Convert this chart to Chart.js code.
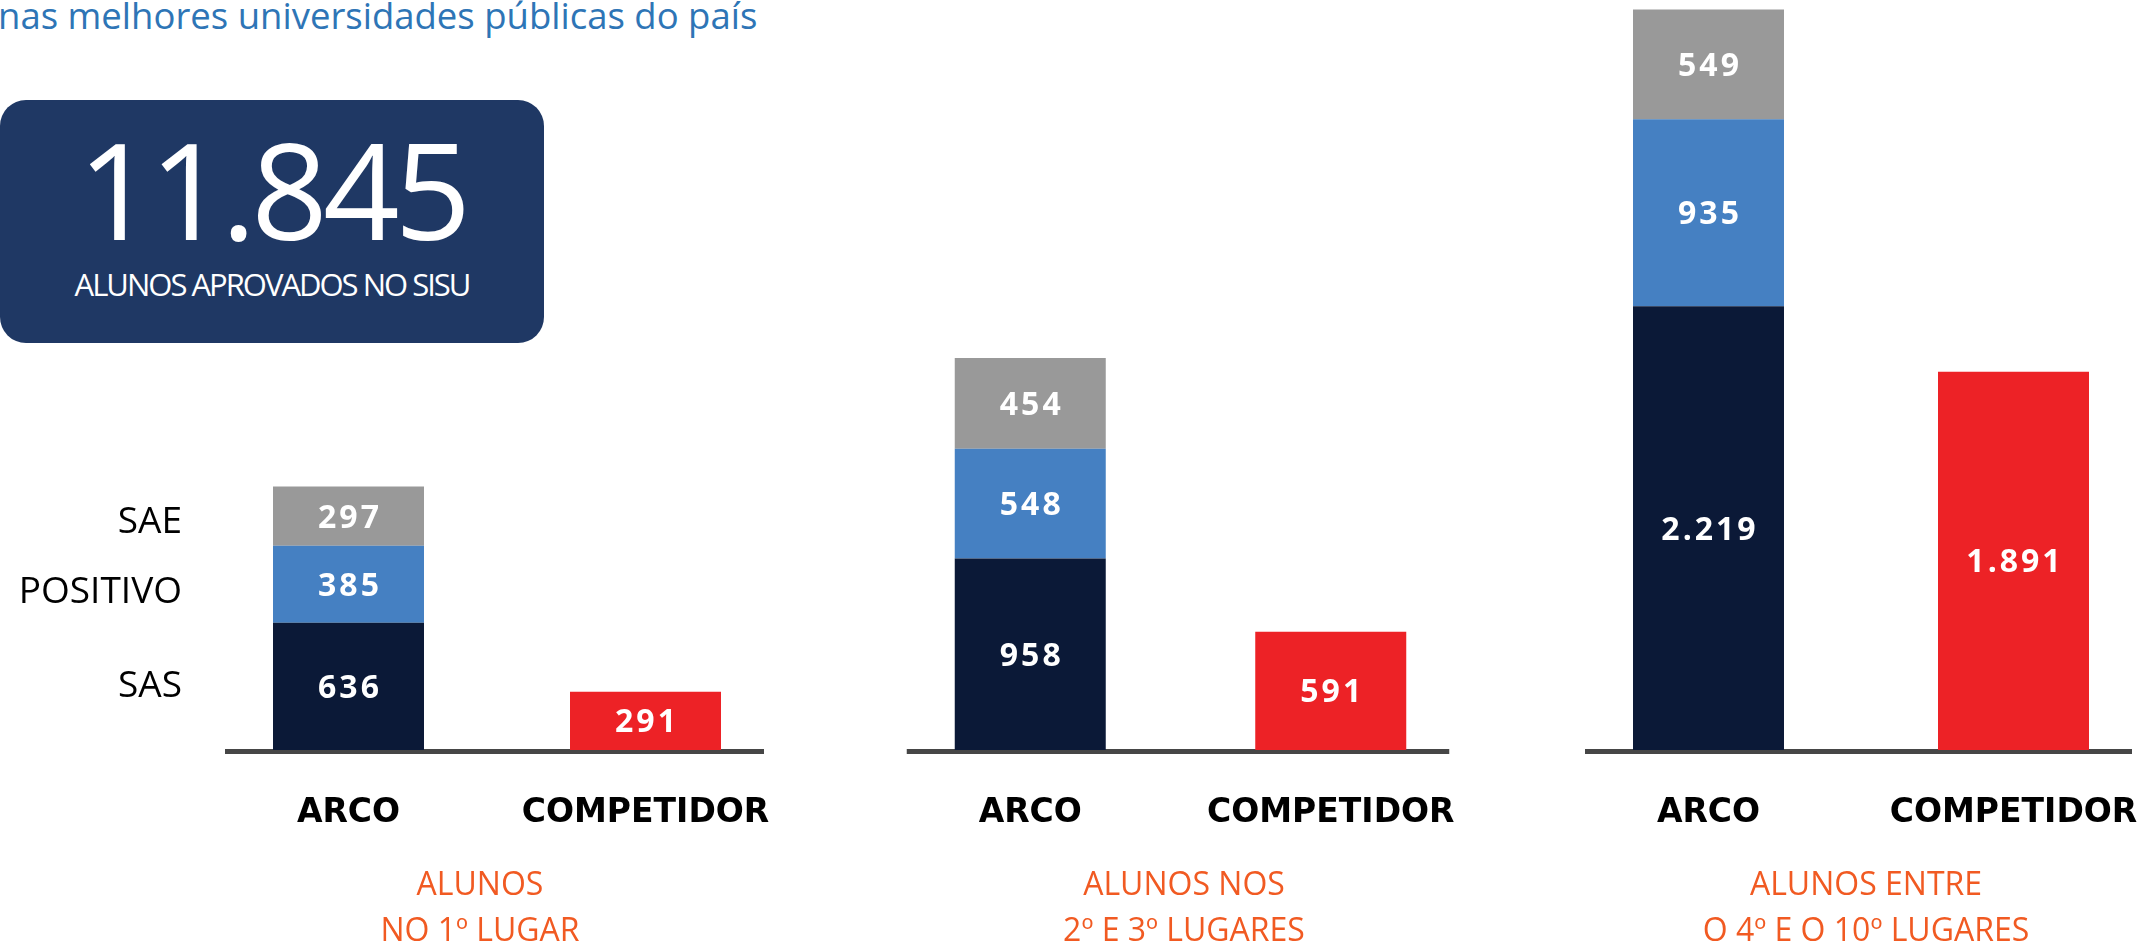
<!DOCTYPE html>
<html lang="pt-BR">
<head>
<meta charset="utf-8">
<title>Alunos aprovados no SISU</title>
<script src="https://cdn.jsdelivr.net/npm/chart.js@4.4.1/dist/chart.umd.min.js"></script>
<style>
  html, body { margin: 0; padding: 0; background: #fff; }
  body { width: 2148px; height: 946px; position: relative; overflow: hidden; font-family: "Open Sans", sans-serif; }
  .title { position: absolute; left: -2px; top: -3px; font-size: 36.5px; line-height: 36.5px; color: #2e75b6; white-space: nowrap; }
  .box { position: absolute; left: 0; top: 100px; width: 544px; height: 243px; background: #1f3864; border-radius: 26px; color: #fff; }
  .box .big { position: absolute; left: 0; width: 544px; top: 21px; text-align: center; font-size: 134px; line-height: 134px; letter-spacing: -5px; }
  .box .small { position: absolute; left: 0; width: 544px; top: 169px; text-align: center; font-size: 31px; line-height: 31px; letter-spacing: -2px; }
  .panel { position: absolute; top: 0; height: 946px; }
  .sub { position: absolute; top: 860px; width: 500px; margin-left: -250px; text-align: center; color: #f15a22; font-size: 32px; line-height: 46px; white-space: nowrap; }
</style>
</head>
<body>
<div class="title" id="title"></div>
<div class="box">
  <div class="big" id="total"></div>
  <div class="small" id="totalLabel"></div>
</div>
<div class="panel" id="p0" style="left:0px;width:794px"><canvas id="c0"></canvas></div>
<div class="panel" id="p1" style="left:880px;width:601px"><canvas id="c1"></canvas></div>
<div class="panel" id="p2" style="left:1556px;width:610px"><canvas id="c2"></canvas></div>
<div class="sub" id="s0" style="left:480px"></div>
<div class="sub" id="s1" style="left:1184px"></div>
<div class="sub" id="s2" style="left:1866px"></div>

<script>
// dados
const TITULO = 'nas melhores universidades públicas do país';
const TOTAL = '11.845';
const TOTAL_LABEL = 'ALUNOS APROVADOS NO SISU';
const CATEGORIAS = ['ARCO', 'COMPETIDOR'];
const SERIES = ['SAS', 'POSITIVO', 'SAE', 'COMPETIDOR'];
const SAS = [636, 958, 2219];
const POSITIVO = [385, 548, 935];
const SAE = [297, 454, 549];
const COMPETIDOR = [291, 591, 1891];
const SUBTITULOS = [
    ['ALUNOS', 'NO 1º LUGAR'],
    ['ALUNOS NOS', '2º E 3º LUGARES'],
    ['ALUNOS ENTRE', 'O 4º E O 10º LUGARES']
];
const Y_MAX = 3750;

const CORES = ['#0b1937', '#4580c2', '#999999', '#ed2226'];

document.getElementById('title').textContent = TITULO;
document.getElementById('total').textContent = TOTAL;
document.getElementById('totalLabel').textContent = TOTAL_LABEL;
SUBTITULOS.forEach((linhas, i) => {
    document.getElementById('s' + i).innerHTML = linhas.join('<br>');
});

function fmt(v) {
    return String(v).replace(/\B(?=(\d{3})+(?!\d))/g, '.');
}

const barLabels = {
    id: 'barLabels',
    beforeDatasetsDraw(chart) {
        const { ctx, chartArea } = chart;
        const first = chart.getDatasetMeta(0).data[0];
        const last = chart.getDatasetMeta(3).data[1];
        const x0 = first.x - first.width / 2 - 48;
        const x1 = last.x + last.width / 2 + 43;
        ctx.save();
        ctx.fillStyle = '#464646';
        ctx.fillRect(x0, chartArea.bottom - 1, x1 - x0, 5);
        ctx.restore();
    },
    afterDatasetsDraw(chart, args, opts) {
        const { ctx, chartArea } = chart;
        ctx.save();
        ctx.textAlign = 'center';
        ctx.textBaseline = 'alphabetic';

        // valores dentro das barras
        ctx.fillStyle = '#fff';
        ctx.font = 'bold 32px "Open Sans"';
        ctx.letterSpacing = '3px';
        chart.data.datasets.forEach((ds, i) => {
            chart.getDatasetMeta(i).data.forEach((bar, j) => {
                const v = ds.data[j];
                if (v == null) return;
                const yc = (bar.y + bar.base) / 2;
                ctx.fillText(fmt(v), bar.x + 1.5, yc + 11.5);
            });
        });

        // categorias embaixo do eixo
        ctx.letterSpacing = '0px';
        ctx.fillStyle = '#000';
        ctx.font = 'bold 33px "DejaVu Sans"';
        chart.data.labels.forEach((lab, j) => {
            ctx.fillText(lab, chart.scales.x.getPixelForValue(j), chartArea.bottom + 72);
        });

        // nomes das séries (só no primeiro painel)
        if (opts.showSeries) {
            ctx.textAlign = 'right';
            ctx.font = '37px "Open Sans"';
            const ajuste = [-2, 6, 4];
            for (let i = 0; i < 3; i++) {
                const bar = chart.getDatasetMeta(i).data[0];
                const yc = (bar.y + bar.base) / 2;
                ctx.fillText(chart.data.datasets[i].label, chartArea.left - 18, yc + ajuste[i] + 13);
            }
        }
        ctx.restore();
    }
};

const paineis = [
    { padLeft: 200, spacing: 297 },
    { padLeft: 0, spacing: 300.5 },
    { padLeft: 0, spacing: 305 }
];

paineis.forEach((p, k) => {
    const valores = [SAS[k], POSITIVO[k], SAE[k]];
    const datasets = valores.map((v, i) => ({
        label: SERIES[i],
        data: [v, null],
        backgroundColor: CORES[i],
        stack: 's'
    }));
    datasets.push({
        label: SERIES[3],
        data: [null, COMPETIDOR[k]],
        backgroundColor: CORES[3],
        stack: 's'
    });

    new Chart(document.getElementById('c' + k), {
        type: 'bar',
        data: { labels: CATEGORIAS, datasets: datasets },
        options: {
            responsive: true,
            maintainAspectRatio: false,
            animation: false,
            events: [],
            layout: { padding: { left: p.padLeft, right: 0, top: 0, bottom: 196 } },
            datasets: {
                bar: { categoryPercentage: 1, barPercentage: 151 / p.spacing, borderWidth: 0 }
            },
            scales: {
                x: { display: false, stacked: true },
                y: { display: false, stacked: true, min: 0, max: Y_MAX }
            },
            plugins: {
                legend: { display: false },
                tooltip: { enabled: false },
                barLabels: { showSeries: k === 0 }
            }
        },
        plugins: [barLabels]
    });
});
</script>
</body>
</html>
